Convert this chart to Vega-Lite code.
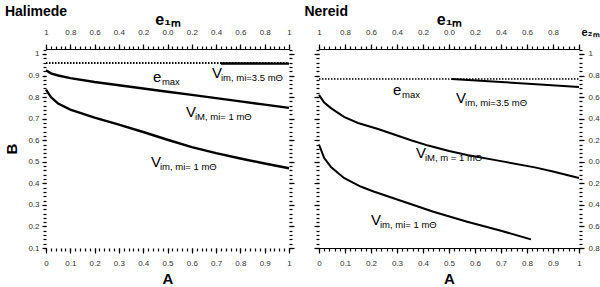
{
"$schema":"https://vega.github.io/schema/vega-lite/v6.json",
"padding":{"left":4,"top":5,"right":0,"bottom":0},
"bounds":"flush",
"spacing":30,
"config":{"view":{"stroke":null},"font":"Liberation Sans",
 "axis":{"labelFont":"Liberation Sans","labelFontSize":8,"labelColor":"#333","tickColor":"#000","domainColor":"#000","domainWidth":1.2,"tickWidth":1.2,"grid":false,"titleFont":"Liberation Sans","titleColor":"#000","labelFlush":false},
 "text":{"font":"Liberation Sans"}},
"datasets":{
 "curves":[
  {"p":"H","s":"iM1","A":0,"B":0.925},{"p":"H","s":"iM1","A":0.02,"B":0.91},{"p":"H","s":"iM1","A":0.05,"B":0.9},{"p":"H","s":"iM1","A":0.1,"B":0.888},{"p":"H","s":"iM1","A":0.2,"B":0.87},{"p":"H","s":"iM1","A":0.3,"B":0.855},{"p":"H","s":"iM1","A":0.4,"B":0.84},{"p":"H","s":"iM1","A":0.5,"B":0.825},{"p":"H","s":"iM1","A":0.6,"B":0.81},{"p":"H","s":"iM1","A":0.7,"B":0.795},{"p":"H","s":"iM1","A":0.8,"B":0.78},{"p":"H","s":"iM1","A":0.9,"B":0.765},{"p":"H","s":"iM1","A":1,"B":0.75},
  {"p":"H","s":"im1","A":0,"B":0.835},{"p":"H","s":"im1","A":0.02,"B":0.8},{"p":"H","s":"im1","A":0.05,"B":0.77},{"p":"H","s":"im1","A":0.1,"B":0.742},{"p":"H","s":"im1","A":0.2,"B":0.705},{"p":"H","s":"im1","A":0.3,"B":0.672},{"p":"H","s":"im1","A":0.4,"B":0.638},{"p":"H","s":"im1","A":0.5,"B":0.602},{"p":"H","s":"im1","A":0.6,"B":0.568},{"p":"H","s":"im1","A":0.7,"B":0.54},{"p":"H","s":"im1","A":0.8,"B":0.515},{"p":"H","s":"im1","A":0.9,"B":0.492},{"p":"H","s":"im1","A":1,"B":0.47},
  {"p":"H","s":"im35","A":0.72,"B":0.956},{"p":"H","s":"im35","A":1,"B":0.955},
  {"p":"H","s":"emax","A":0,"B":0.958},{"p":"H","s":"emax","A":1,"B":0.958},
  {"p":"N","s":"iM1","A":0,"B":0.81},{"p":"N","s":"iM1","A":0.02,"B":0.775},{"p":"N","s":"iM1","A":0.046,"B":0.749},{"p":"N","s":"iM1","A":0.096,"B":0.708},{"p":"N","s":"iM1","A":0.15,"B":0.68},{"p":"N","s":"iM1","A":0.227,"B":0.652},{"p":"N","s":"iM1","A":0.354,"B":0.6},{"p":"N","s":"iM1","A":0.42,"B":0.575},{"p":"N","s":"iM1","A":0.5,"B":0.55},{"p":"N","s":"iM1","A":0.57,"B":0.531},{"p":"N","s":"iM1","A":0.7,"B":0.503},{"p":"N","s":"iM1","A":0.83,"B":0.474},{"p":"N","s":"iM1","A":0.9,"B":0.455},{"p":"N","s":"iM1","A":1,"B":0.425},
  {"p":"N","s":"im1","A":0,"B":0.58},{"p":"N","s":"im1","A":0.02,"B":0.517},{"p":"N","s":"im1","A":0.046,"B":0.476},{"p":"N","s":"im1","A":0.096,"B":0.425},{"p":"N","s":"im1","A":0.16,"B":0.385},{"p":"N","s":"im1","A":0.21,"B":0.362},{"p":"N","s":"im1","A":0.315,"B":0.319},{"p":"N","s":"im1","A":0.44,"B":0.268},{"p":"N","s":"im1","A":0.57,"B":0.222},{"p":"N","s":"im1","A":0.7,"B":0.18},{"p":"N","s":"im1","A":0.815,"B":0.14},
  {"p":"N","s":"im35","A":0.51,"B":0.884},{"p":"N","s":"im35","A":0.7,"B":0.87},{"p":"N","s":"im35","A":0.85,"B":0.858},{"p":"N","s":"im35","A":1,"B":0.847},
  {"p":"N","s":"emax","A":0,"B":0.884},{"p":"N","s":"emax","A":1,"B":0.884}
 ],
 "labels":[
  {"p":"H","A":0.44,"B":0.87,"big":"e","sub":"max"},
  {"p":"H","A":0.683,"B":0.889,"big":"V","sub":"im, mi=3.5 mΘ"},
  {"p":"H","A":0.576,"B":0.708,"big":"V","sub":"iM, mi= 1 mΘ"},
  {"p":"H","A":0.432,"B":0.476,"big":"V","sub":"im, mi= 1 mΘ"},
  {"p":"N","A":0.285,"B":0.81,"big":"e","sub":"max"},
  {"p":"N","A":0.527,"B":0.773,"big":"V","sub":"im, mi=3.5 mΘ"},
  {"p":"N","A":0.373,"B":0.517,"big":"V","sub":"iM, m = 1 mΘ"},
  {"p":"N","A":0.2,"B":0.207,"big":"V","sub":"im, mi= 1 mΘ"}
 ]
},
"hconcat":[
 {"width":243,"height":199,
  "title":{"text":"Halimede","anchor":"start","fontSize":14,"fontWeight":"bold","font":"Liberation Sans","frame":"bounds","offset":-8},
  "resolve":{"axis":{"x":"independent","y":"independent"}},
  "layer":[
   {"data":{"name":"curves"},"transform":[{"filter":"datum.p=='H' && datum.s!='emax'"}],
    "mark":{"type":"line","color":"black","strokeWidth":2.4},
    "encoding":{
     "x":{"field":"A","type":"quantitative","scale":{"domain":[0,1],"nice":false,"zero":false},
      "axis":{"orient":"bottom","values":[0,0.1,0.2,0.3,0.4,0.5,0.6,0.7,0.8,0.9,1],"labelExpr":"datum.value==0?'0':datum.value==1?'1':format(datum.value,'.1f')","tickSize":5,"domain":false,"title":"A","titleFontSize":15,"titleFontWeight":"bold","labelPadding":6,"titlePadding":4}},
     "y":{"field":"B","type":"quantitative","scale":{"domain":[0.1,1.023],"nice":false,"zero":false},
      "axis":{"orient":"left","values":[0.1,0.2,0.3,0.4,0.5,0.6,0.7,0.8,0.9,1],"labelExpr":"datum.value==1?'1':format(datum.value,'.1f')","tickSize":4,"domain":false,"title":"B","titleFontSize":15,"titleFontWeight":"bold","labelPadding":3,"titlePadding":8}},
     "detail":{"field":"s"}}},
   {"data":{"name":"curves"},"transform":[{"filter":"datum.p=='H' && datum.s=='emax'"}],
    "mark":{"type":"line","color":"black","strokeWidth":1.8,"strokeDash":[1.5,1.5]},
    "encoding":{
     "x":{"field":"A","type":"quantitative","scale":{"domain":[0,1],"nice":false,"zero":false},
      "axis":{"orient":"bottom","values":[0,0.02,0.04,0.06,0.08,0.1,0.12,0.14,0.16,0.18,0.2,0.22,0.24,0.26,0.28,0.3,0.32,0.34,0.36,0.38,0.4,0.42,0.44,0.46,0.48,0.5,0.52,0.54,0.56,0.58,0.6,0.62,0.64,0.66,0.68,0.7,0.72,0.74,0.76,0.78,0.8,0.82,0.84,0.86,0.88,0.9,0.92,0.94,0.96,0.98,1],"tickSize":3,"labels":false,"domain":false,"title":null}},
     "y":{"field":"B","type":"quantitative","scale":{"domain":[0.1,1.023],"nice":false,"zero":false},
      "axis":{"orient":"left","values":[0.1,0.12,0.14,0.16,0.18,0.2,0.22,0.24,0.26,0.28,0.3,0.32,0.34,0.36,0.38,0.4,0.42,0.44,0.46,0.48,0.5,0.52,0.54,0.56,0.58,0.6,0.62,0.64,0.66,0.68,0.7,0.72,0.74,0.76,0.78,0.8,0.82,0.84,0.86,0.88,0.9,0.92,0.94,0.96,0.98,1,1.02],"tickSize":3,"labels":false,"domain":false,"title":null}}}},
   {"data":{"name":"labels"},"transform":[{"filter":"datum.p=='H'"}],
    "mark":{"type":"text","align":"left","baseline":"alphabetic","fontSize":15,"color":"black"},
    "encoding":{
     "x":{"field":"A","type":"quantitative","scale":{"domain":[0,1],"nice":false,"zero":false},
      "axis":{"orient":"top","values":[0,0.1,0.2,0.3,0.4,0.5,0.6,0.7,0.8,0.9,1],"labelExpr":"datum.value==0||datum.value==1?'1':format(abs(1-2*datum.value),'.1f')","tickSize":5,"domain":true,"title":"e₁ₘ","titleFontSize":16,"titleFontWeight":"bold","labelPadding":8,"titlePadding":1}},
     "y":{"field":"B","type":"quantitative","scale":{"domain":[0.1,1.023],"nice":false,"zero":false},
      "axis":{"orient":"right","values":[0.1,0.2,0.3,0.4,0.5,0.6,0.7,0.8,0.9,1],"tickSize":5,"labels":false,"domain":false,"title":null}},
     "text":{"field":"big"}}},
   {"data":{"name":"labels"},"transform":[{"filter":"datum.p=='H'"}],
    "mark":{"type":"text","align":"left","baseline":"alphabetic","fontSize":9.5,"dx":9,"dy":3,"color":"black"},
    "encoding":{
     "x":{"field":"A","type":"quantitative","scale":{"domain":[0,1],"nice":false,"zero":false},
      "axis":{"orient":"top","values":[0,0.02,0.04,0.06,0.08,0.1,0.12,0.14,0.16,0.18,0.2,0.22,0.24,0.26,0.28,0.3,0.32,0.34,0.36,0.38,0.4,0.42,0.44,0.46,0.48,0.5,0.52,0.54,0.56,0.58,0.6,0.62,0.64,0.66,0.68,0.7,0.72,0.74,0.76,0.78,0.8,0.82,0.84,0.86,0.88,0.9,0.92,0.94,0.96,0.98,1],"tickSize":3,"labels":false,"domain":false,"title":null}},
     "y":{"field":"B","type":"quantitative","scale":{"domain":[0.1,1.023],"nice":false,"zero":false},
      "axis":{"orient":"right","values":[0.1,0.12,0.14,0.16,0.18,0.2,0.22,0.24,0.26,0.28,0.3,0.32,0.34,0.36,0.38,0.4,0.42,0.44,0.46,0.48,0.5,0.52,0.54,0.56,0.58,0.6,0.62,0.64,0.66,0.68,0.7,0.72,0.74,0.76,0.78,0.8,0.82,0.84,0.86,0.88,0.9,0.92,0.94,0.96,0.98,1,1.02],"tickSize":3,"labels":false,"domain":false,"title":null}},
     "text":{"field":"sub"}}}
  ]},
 {"width":260,"height":199,
  "title":{"text":"Nereid","anchor":"start","fontSize":14,"fontWeight":"bold","font":"Liberation Sans","frame":"bounds","offset":-8,"dx":-9},
  "resolve":{"axis":{"x":"independent","y":"independent"}},
  "layer":[
   {"data":{"name":"curves"},"transform":[{"filter":"datum.p=='N' && datum.s!='emax'"}],
    "mark":{"type":"line","color":"black","strokeWidth":2},
    "encoding":{
     "x":{"field":"A","type":"quantitative","scale":{"domain":[0,1],"nice":false,"zero":false},
      "axis":{"orient":"bottom","values":[0,0.1,0.2,0.3,0.4,0.5,0.6,0.7,0.8,0.9,1],"labelExpr":"datum.value==0?'0':datum.value==1?'1':format(datum.value,'.1f')","tickSize":5,"domain":true,"title":"A","titleFontSize":15,"titleFontWeight":"bold","labelPadding":6,"titlePadding":4}},
     "y":{"field":"B","type":"quantitative","scale":{"domain":[0.1,1.023],"nice":false,"zero":false},
      "axis":{"orient":"left","values":[0.1,0.2,0.3,0.4,0.5,0.6,0.7,0.8,0.9,1],"tickSize":5,"labels":false,"domain":false,"title":null}},
     "detail":{"field":"s"}}},
   {"data":{"name":"curves"},"transform":[{"filter":"datum.p=='N' && datum.s=='emax'"}],
    "mark":{"type":"line","color":"black","strokeWidth":1.4,"strokeDash":[1.5,1.5]},
    "encoding":{
     "x":{"field":"A","type":"quantitative","scale":{"domain":[0,1],"nice":false,"zero":false},
      "axis":{"orient":"bottom","values":[0,0.02,0.04,0.06,0.08,0.1,0.12,0.14,0.16,0.18,0.2,0.22,0.24,0.26,0.28,0.3,0.32,0.34,0.36,0.38,0.4,0.42,0.44,0.46,0.48,0.5,0.52,0.54,0.56,0.58,0.6,0.62,0.64,0.66,0.68,0.7,0.72,0.74,0.76,0.78,0.8,0.82,0.84,0.86,0.88,0.9,0.92,0.94,0.96,0.98,1],"tickSize":3,"labels":false,"domain":false,"title":null}},
     "y":{"field":"B","type":"quantitative","scale":{"domain":[0.1,1.023],"nice":false,"zero":false},
      "axis":{"orient":"left","values":[0.1,0.12,0.14,0.16,0.18,0.2,0.22,0.24,0.26,0.28,0.3,0.32,0.34,0.36,0.38,0.4,0.42,0.44,0.46,0.48,0.5,0.52,0.54,0.56,0.58,0.6,0.62,0.64,0.66,0.68,0.7,0.72,0.74,0.76,0.78,0.8,0.82,0.84,0.86,0.88,0.9,0.92,0.94,0.96,0.98,1,1.02],"tickSize":3,"labels":false,"domain":false,"title":null}}}},
   {"data":{"name":"labels"},"transform":[{"filter":"datum.p=='N'"}],
    "mark":{"type":"text","align":"left","baseline":"alphabetic","fontSize":15,"color":"black"},
    "encoding":{
     "x":{"field":"A","type":"quantitative","scale":{"domain":[0,1],"nice":false,"zero":false},
      "axis":{"orient":"top","values":[0,0.1,0.2,0.3,0.4,0.5,0.6,0.7,0.8,0.9,1],"labelExpr":"datum.value==1?'':datum.value==0?'1':format(abs(1-2*datum.value),'.1f')","tickSize":5,"domain":true,"title":"e₁ₘ","titleFontSize":16,"titleFontWeight":"bold","labelPadding":8,"titlePadding":1}},
     "y":{"field":"B","type":"quantitative","scale":{"domain":[0.1,1.023],"nice":false,"zero":false},
      "axis":{"orient":"right","values":[0.1,0.2,0.3,0.4,0.5,0.6,0.7,0.8,0.9,1],"labelExpr":"datum.value==1?'1':format(abs(2*datum.value-1),'.1f')","tickSize":5,"labels":true,"labelPadding":4,"domain":false,"title":"e₂ₘ","titleAngle":0,"titleX":2,"titleY":-17,"titleAlign":"left","titleBaseline":"middle","titleFontSize":11,"titleFontWeight":"bold"}},
     "text":{"field":"big"}}},
   {"data":{"name":"labels"},"transform":[{"filter":"datum.p=='N'"}],
    "mark":{"type":"text","align":"left","baseline":"alphabetic","fontSize":9.5,"dx":9,"dy":3,"color":"black"},
    "encoding":{
     "x":{"field":"A","type":"quantitative","scale":{"domain":[0,1],"nice":false,"zero":false},
      "axis":{"orient":"top","values":[0,0.02,0.04,0.06,0.08,0.1,0.12,0.14,0.16,0.18,0.2,0.22,0.24,0.26,0.28,0.3,0.32,0.34,0.36,0.38,0.4,0.42,0.44,0.46,0.48,0.5,0.52,0.54,0.56,0.58,0.6,0.62,0.64,0.66,0.68,0.7,0.72,0.74,0.76,0.78,0.8,0.82,0.84,0.86,0.88,0.9,0.92,0.94,0.96,0.98,1],"tickSize":3,"labels":false,"domain":false,"title":null}},
     "y":{"field":"B","type":"quantitative","scale":{"domain":[0.1,1.023],"nice":false,"zero":false},
      "axis":{"orient":"right","values":[0.1,0.12,0.14,0.16,0.18,0.2,0.22,0.24,0.26,0.28,0.3,0.32,0.34,0.36,0.38,0.4,0.42,0.44,0.46,0.48,0.5,0.52,0.54,0.56,0.58,0.6,0.62,0.64,0.66,0.68,0.7,0.72,0.74,0.76,0.78,0.8,0.82,0.84,0.86,0.88,0.9,0.92,0.94,0.96,0.98,1,1.02],"tickSize":3,"labels":false,"domain":false,"title":null}},
     "text":{"field":"sub"}}}
  ]}
]
}
